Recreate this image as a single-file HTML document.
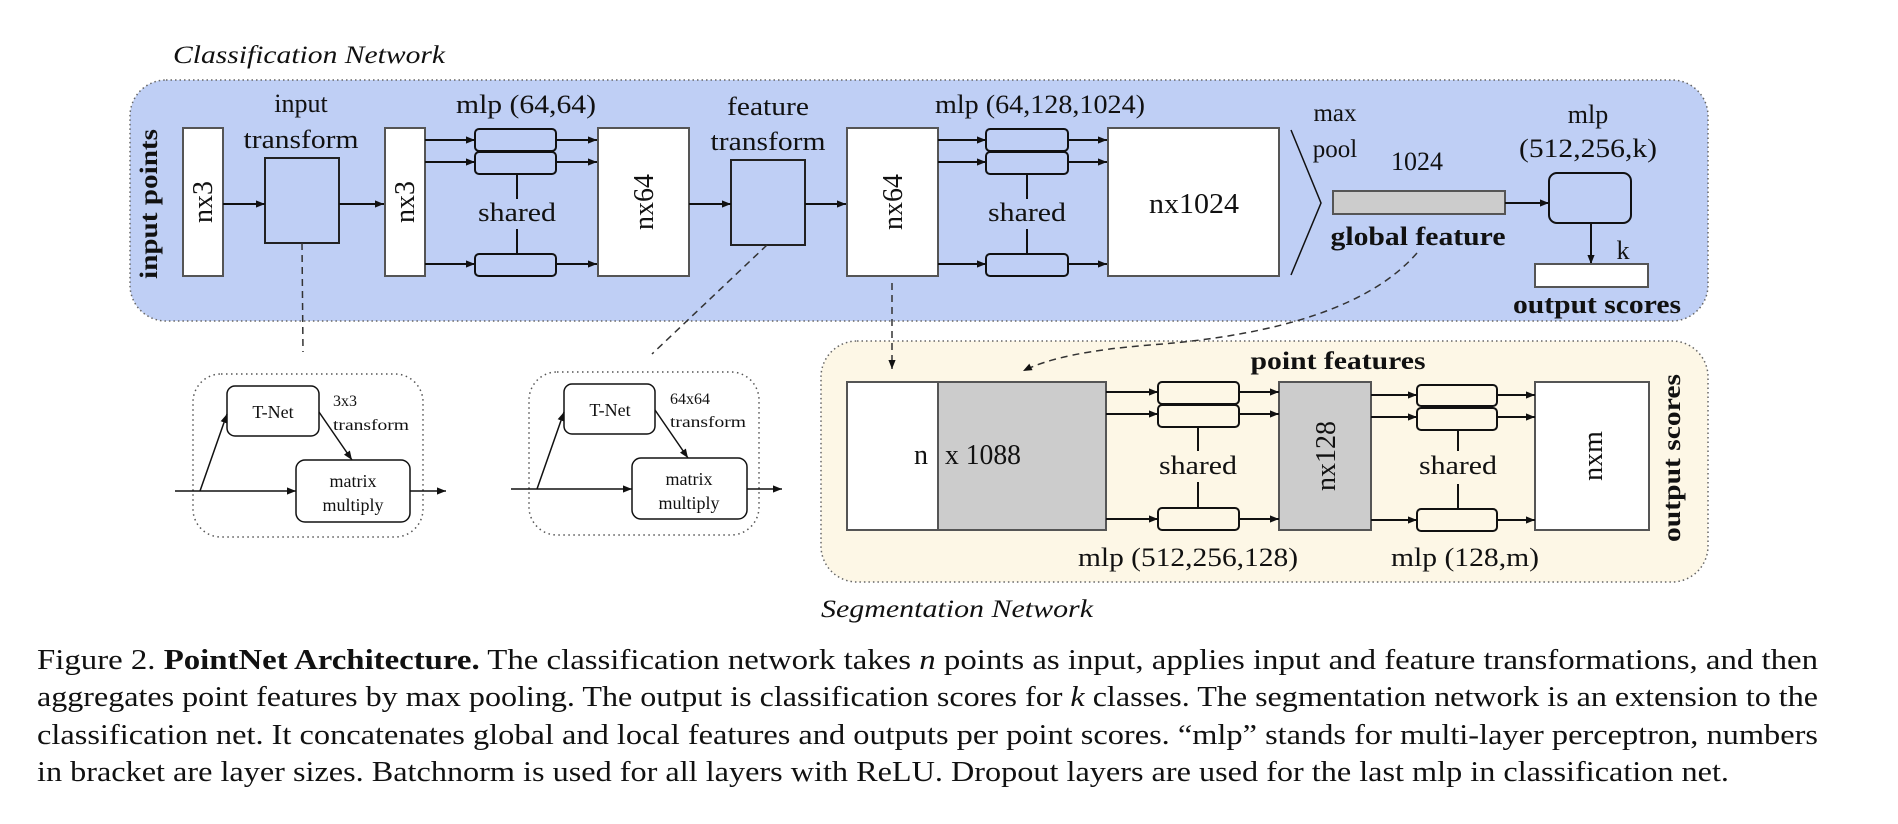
<!DOCTYPE html>
<html><head><meta charset="utf-8"><style>
html,body{margin:0;padding:0;background:#fff;}
svg{display:block;}
text{font-family:"Liberation Serif","Times New Roman",serif;fill:#111;}
</style></head><body>
<svg width="1898" height="824" viewBox="0 0 1898 824" xmlns="http://www.w3.org/2000/svg">
<defs>
<marker id="a" viewBox="0 0 10 10" refX="10" refY="5" markerWidth="9" markerHeight="9" orient="auto" markerUnits="userSpaceOnUse"><path d="M0,1 L10,5 L0,9 z" fill="#111"/></marker>
</defs>

<!-- Classification panel -->
<text x="173" y="63" font-size="25" font-style="italic" textLength="272" lengthAdjust="spacingAndGlyphs">Classification Network</text>
<rect x="130" y="80" width="1578" height="241" rx="36" ry="36" fill="#bfcff5" stroke="#666" stroke-width="1.5" stroke-dasharray="1.5,3"/>

<text transform="translate(157,204) rotate(-90)" text-anchor="middle" font-size="25" font-weight="bold" textLength="150" lengthAdjust="spacingAndGlyphs">input points</text>

<g stroke="#555" stroke-width="2">
<rect x="183" y="128" width="40" height="148" fill="#fff"/>
<rect x="265" y="158" width="74" height="85" fill="#bfcff5" stroke="#222"/>
<rect x="385" y="128" width="40" height="148" fill="#fff"/>
<rect x="598" y="128" width="91" height="148" fill="#fff"/>
<rect x="731" y="160" width="74" height="85" fill="#bfcff5" stroke="#222"/>
<rect x="847" y="128" width="91" height="148" fill="#fff"/>
<rect x="1108" y="128" width="171" height="148" fill="#fff"/>
</g>
<text transform="translate(212,202) rotate(-90)" text-anchor="middle" font-size="28">nx3</text>
<text transform="translate(414,202) rotate(-90)" text-anchor="middle" font-size="28">nx3</text>
<text transform="translate(653,202) rotate(-90)" text-anchor="middle" font-size="28">nx64</text>
<text transform="translate(902,202) rotate(-90)" text-anchor="middle" font-size="28">nx64</text>
<text x="1194" y="213" text-anchor="middle" font-size="28" textLength="90" lengthAdjust="spacingAndGlyphs">nx1024</text>

<text x="301" y="112" text-anchor="middle" font-size="26">input</text>
<text x="301" y="148" text-anchor="middle" font-size="26" textLength="115" lengthAdjust="spacingAndGlyphs">transform</text>
<text x="768" y="115" text-anchor="middle" font-size="26" textLength="82" lengthAdjust="spacingAndGlyphs">feature</text>
<text x="768" y="150" text-anchor="middle" font-size="26" textLength="115" lengthAdjust="spacingAndGlyphs">transform</text>
<text x="526" y="113" text-anchor="middle" font-size="26" textLength="140" lengthAdjust="spacingAndGlyphs">mlp (64,64)</text>
<text x="1040" y="113" text-anchor="middle" font-size="26" textLength="210" lengthAdjust="spacingAndGlyphs">mlp (64,128,1024)</text>

<g stroke="#111" stroke-width="2" fill="none">
<line x1="223" y1="204" x2="265" y2="204" marker-end="url(#a)"/>
<line x1="339" y1="204" x2="384" y2="204" marker-end="url(#a)"/>
<line x1="689" y1="204" x2="731" y2="204" marker-end="url(#a)"/>
<line x1="805" y1="204" x2="846" y2="204" marker-end="url(#a)"/>
</g>

<!-- mlp group 1 -->
<g stroke="#111" stroke-width="2" fill="#bfcff5">
<rect x="475" y="129" width="81" height="22" rx="4"/>
<rect x="475" y="152" width="81" height="22" rx="4"/>
<rect x="475" y="254" width="81" height="22" rx="4"/>
</g>
<g stroke="#111" stroke-width="2">
<line x1="425" y1="140" x2="475" y2="140" marker-end="url(#a)"/>
<line x1="425" y1="162" x2="475" y2="162" marker-end="url(#a)"/>
<line x1="425" y1="264" x2="475" y2="264" marker-end="url(#a)"/>
<line x1="556" y1="140" x2="597" y2="140" marker-end="url(#a)"/>
<line x1="556" y1="162" x2="597" y2="162" marker-end="url(#a)"/>
<line x1="556" y1="264" x2="597" y2="264" marker-end="url(#a)"/>
<line x1="517" y1="174" x2="517" y2="199"/>
<line x1="517" y1="229" x2="517" y2="254"/>
</g>
<text x="517" y="221" text-anchor="middle" font-size="26" textLength="78" lengthAdjust="spacingAndGlyphs">shared</text>
<!-- mlp group 2 -->
<g stroke="#111" stroke-width="2" fill="#bfcff5">
<rect x="986" y="129" width="82" height="22" rx="4"/>
<rect x="986" y="152" width="82" height="22" rx="4"/>
<rect x="986" y="254" width="82" height="22" rx="4"/>
</g>
<g stroke="#111" stroke-width="2">
<line x1="938" y1="140" x2="986" y2="140" marker-end="url(#a)"/>
<line x1="938" y1="162" x2="986" y2="162" marker-end="url(#a)"/>
<line x1="938" y1="264" x2="986" y2="264" marker-end="url(#a)"/>
<line x1="1068" y1="140" x2="1107" y2="140" marker-end="url(#a)"/>
<line x1="1068" y1="162" x2="1107" y2="162" marker-end="url(#a)"/>
<line x1="1068" y1="264" x2="1107" y2="264" marker-end="url(#a)"/>
<line x1="1027" y1="174" x2="1027" y2="199"/>
<line x1="1027" y1="229" x2="1027" y2="254"/>
</g>
<text x="1027" y="221" text-anchor="middle" font-size="26" textLength="78" lengthAdjust="spacingAndGlyphs">shared</text>

<!-- max pool -->
<polyline points="1291,130 1321,203 1291,275" fill="none" stroke="#111" stroke-width="1.5"/>
<text x="1335" y="121" text-anchor="middle" font-size="25">max</text>
<text x="1335" y="157" text-anchor="middle" font-size="25">pool</text>
<text x="1417" y="170" text-anchor="middle" font-size="26">1024</text>
<rect x="1333" y="191" width="172" height="23" fill="#cccccc" stroke="#555" stroke-width="2"/>
<text x="1418" y="245" text-anchor="middle" font-size="26" font-weight="bold" textLength="175" lengthAdjust="spacingAndGlyphs">global feature</text>
<line x1="1505" y1="203" x2="1549" y2="203" stroke="#111" stroke-width="2" marker-end="url(#a)"/>
<rect x="1549" y="173" width="82" height="50" rx="8" fill="#bfcff5" stroke="#111" stroke-width="2"/>
<text x="1588" y="123" text-anchor="middle" font-size="26">mlp</text>
<text x="1588" y="157" text-anchor="middle" font-size="26" textLength="138" lengthAdjust="spacingAndGlyphs">(512,256,k)</text>
<line x1="1591" y1="223" x2="1591" y2="264" stroke="#111" stroke-width="2" marker-end="url(#a)"/>
<text x="1623" y="259" text-anchor="middle" font-size="26">k</text>
<rect x="1535" y="264" width="113" height="23" fill="#fff" stroke="#555" stroke-width="2"/>
<text x="1597" y="313" text-anchor="middle" font-size="26" font-weight="bold" textLength="168" lengthAdjust="spacingAndGlyphs">output scores</text>

<!-- T-Net box 1 -->
<rect x="193" y="374" width="230" height="163" rx="28" fill="none" stroke="#555" stroke-width="1.5" stroke-dasharray="1.5,3.5"/>
<rect x="227" y="386" width="92" height="50" rx="8" fill="#fff" stroke="#111" stroke-width="1.5"/>
<text x="273" y="418" text-anchor="middle" font-size="18">T-Net</text>
<text x="333" y="406" font-size="16">3x3</text>
<text x="333" y="430" font-size="16" textLength="76" lengthAdjust="spacingAndGlyphs">transform</text>
<rect x="296" y="460" width="114" height="62" rx="9" fill="#fff" stroke="#111" stroke-width="1.5"/>
<text x="353" y="487" text-anchor="middle" font-size="18">matrix</text>
<text x="353" y="511" text-anchor="middle" font-size="18">multiply</text>
<g stroke="#111" stroke-width="1.5">
<line x1="175" y1="491" x2="296" y2="491" marker-end="url(#a)"/>
<line x1="200" y1="491" x2="227" y2="414" marker-end="url(#a)"/>
<line x1="319" y1="412" x2="352" y2="460" marker-end="url(#a)"/>
<line x1="410" y1="491" x2="446" y2="491" marker-end="url(#a)"/>
</g>
<!-- T-Net box 2 -->
<rect x="529" y="372" width="230" height="163" rx="28" fill="none" stroke="#555" stroke-width="1.5" stroke-dasharray="1.5,3.5"/>
<rect x="564" y="384" width="91" height="50" rx="8" fill="#fff" stroke="#111" stroke-width="1.5"/>
<text x="610" y="416" text-anchor="middle" font-size="18">T-Net</text>
<text x="670" y="404" font-size="16">64x64</text>
<text x="670" y="427" font-size="16" textLength="76" lengthAdjust="spacingAndGlyphs">transform</text>
<rect x="632" y="458" width="115" height="61" rx="9" fill="#fff" stroke="#111" stroke-width="1.5"/>
<text x="689" y="485" text-anchor="middle" font-size="18">matrix</text>
<text x="689" y="509" text-anchor="middle" font-size="18">multiply</text>
<g stroke="#111" stroke-width="1.5">
<line x1="511" y1="489" x2="632" y2="489" marker-end="url(#a)"/>
<line x1="537" y1="489" x2="564" y2="412" marker-end="url(#a)"/>
<line x1="655" y1="410" x2="688" y2="458" marker-end="url(#a)"/>
<line x1="747" y1="489" x2="782" y2="489" marker-end="url(#a)"/>
</g>

<!-- Segmentation panel -->
<rect x="821" y="341" width="887" height="241" rx="36" ry="36" fill="#fdf7e6" stroke="#666" stroke-width="1.5" stroke-dasharray="1.5,3"/>
<text x="821" y="617" font-size="25" font-style="italic" textLength="272" lengthAdjust="spacingAndGlyphs">Segmentation Network</text>
<rect x="847" y="382" width="91" height="148" fill="#fff" stroke="#555" stroke-width="2"/>
<rect x="938" y="382" width="168" height="148" fill="#cccccc" stroke="#555" stroke-width="2"/>
<text x="921" y="464" text-anchor="middle" font-size="28">n</text>
<text x="945" y="464" font-size="28" textLength="76" lengthAdjust="spacingAndGlyphs">x 1088</text>
<text x="1338" y="369" text-anchor="middle" font-size="25" font-weight="bold" textLength="175" lengthAdjust="spacingAndGlyphs">point features</text>

<g stroke="#111" stroke-width="2" fill="#fdf7e6">
<rect x="1158" y="382" width="81" height="22" rx="4"/>
<rect x="1158" y="405" width="81" height="22" rx="4"/>
<rect x="1158" y="508" width="81" height="22" rx="4"/>
<rect x="1417" y="385" width="80" height="21" rx="4"/>
<rect x="1417" y="408" width="80" height="22" rx="4"/>
<rect x="1417" y="509" width="80" height="22" rx="4"/>
</g>
<rect x="1279" y="382" width="92" height="148" fill="#cccccc" stroke="#555" stroke-width="2"/>
<rect x="1535" y="382" width="114" height="148" fill="#fff" stroke="#555" stroke-width="2"/>
<text transform="translate(1335,456) rotate(-90)" text-anchor="middle" font-size="28">nx128</text>
<text transform="translate(1602,456) rotate(-90)" text-anchor="middle" font-size="28">nxm</text>
<text transform="translate(1680,458) rotate(-90)" text-anchor="middle" font-size="25" font-weight="bold" textLength="168" lengthAdjust="spacingAndGlyphs">output scores</text>
<g stroke="#111" stroke-width="2">
<line x1="1106" y1="392" x2="1158" y2="392" marker-end="url(#a)"/>
<line x1="1106" y1="414" x2="1158" y2="414" marker-end="url(#a)"/>
<line x1="1106" y1="519" x2="1158" y2="519" marker-end="url(#a)"/>
<line x1="1239" y1="392" x2="1279" y2="392" marker-end="url(#a)"/>
<line x1="1239" y1="414" x2="1279" y2="414" marker-end="url(#a)"/>
<line x1="1239" y1="519" x2="1279" y2="519" marker-end="url(#a)"/>
<line x1="1198" y1="427" x2="1198" y2="451"/>
<line x1="1198" y1="482" x2="1198" y2="508"/>
<line x1="1371" y1="395" x2="1417" y2="395" marker-end="url(#a)"/>
<line x1="1371" y1="417" x2="1417" y2="417" marker-end="url(#a)"/>
<line x1="1371" y1="520" x2="1417" y2="520" marker-end="url(#a)"/>
<line x1="1497" y1="395" x2="1535" y2="395" marker-end="url(#a)"/>
<line x1="1497" y1="417" x2="1535" y2="417" marker-end="url(#a)"/>
<line x1="1497" y1="520" x2="1535" y2="520" marker-end="url(#a)"/>
<line x1="1458" y1="430" x2="1458" y2="451"/>
<line x1="1458" y1="484" x2="1458" y2="509"/>
</g>
<text x="1198" y="474" text-anchor="middle" font-size="26" textLength="78" lengthAdjust="spacingAndGlyphs">shared</text>
<text x="1458" y="474" text-anchor="middle" font-size="26" textLength="78" lengthAdjust="spacingAndGlyphs">shared</text>
<text x="1188" y="566" text-anchor="middle" font-size="26" textLength="220" lengthAdjust="spacingAndGlyphs">mlp (512,256,128)</text>
<text x="1465" y="566" text-anchor="middle" font-size="26" textLength="148" lengthAdjust="spacingAndGlyphs">mlp (128,m)</text>

<!-- dashed connectors (drawn on top) -->
<g stroke="#333" stroke-width="1.5" fill="none" stroke-dasharray="7,5">
<line x1="302" y1="243" x2="303" y2="352"/>
<line x1="767" y1="245" x2="652" y2="354"/>
<line x1="892" y1="283" x2="892" y2="369" marker-end="url(#a)"/>
<path d="M1417,253 Q1350,330 1150,345 Q1060,352 1023,371" marker-end="url(#a)"/>
</g>

<!-- Caption -->
<g font-size="28">
<text x="37" y="669" textLength="1781" lengthAdjust="spacingAndGlyphs">Figure 2. <tspan font-weight="bold">PointNet Architecture.</tspan> The classification network takes <tspan font-style="italic">n</tspan> points as input, applies input and feature transformations, and then</text>
<text x="37" y="706" textLength="1781" lengthAdjust="spacingAndGlyphs">aggregates point features by max pooling. The output is classification scores for <tspan font-style="italic">k</tspan> classes. The segmentation network is an extension to the</text>
<text x="37" y="744" textLength="1781" lengthAdjust="spacingAndGlyphs">classification net. It concatenates global and local features and outputs per point scores. “mlp” stands for multi-layer perceptron, numbers</text>
<text x="37" y="781" textLength="1692" lengthAdjust="spacingAndGlyphs">in bracket are layer sizes. Batchnorm is used for all layers with ReLU. Dropout layers are used for the last mlp in classification net.</text>
</g>
</svg>
</body></html>
